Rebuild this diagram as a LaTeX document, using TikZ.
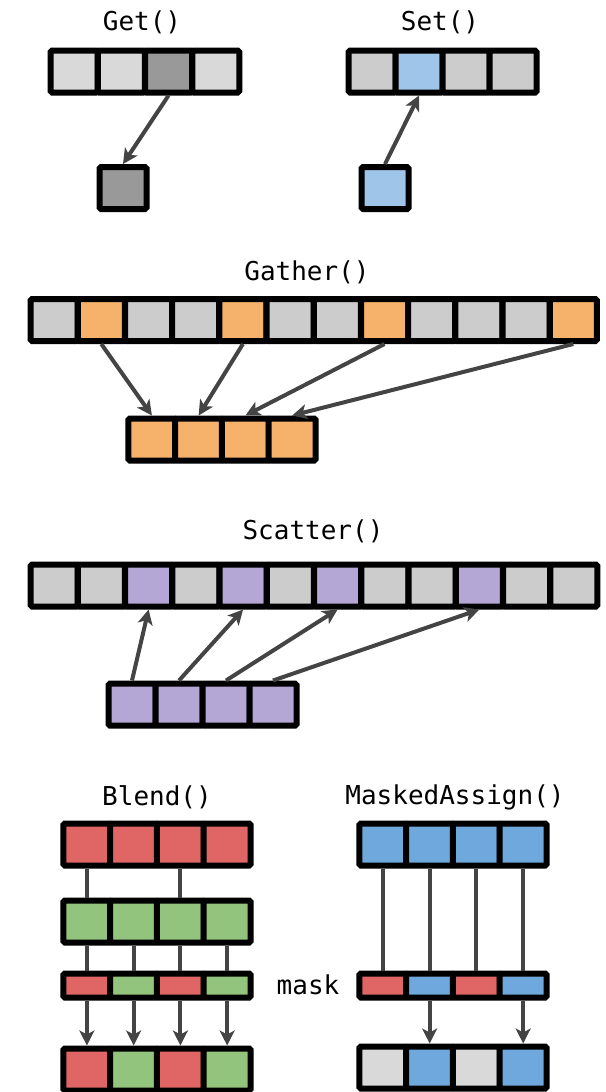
\documentclass[tikz,border=0pt]{standalone}
\usepackage{fontspec}
\setmonofont{DejaVu Sans Mono}
\usepackage{tikz}
\usetikzlibrary{arrows.meta}

\definecolor{lgray}{HTML}{D9D9D9}
\definecolor{mgray}{HTML}{CCCCCC}
\definecolor{dgray}{HTML}{999999}
\definecolor{lblue}{HTML}{9FC5E8}
\definecolor{orng}{HTML}{F6B26B}
\definecolor{purp}{HTML}{B4A7D6}
\definecolor{rd}{HTML}{E06666}
\definecolor{grn}{HTML}{93C47D}
\definecolor{blu}{HTML}{6FA8DC}
\definecolor{arrgray}{HTML}{444444}

\begin{document}
\begin{tikzpicture}[x=1pt,
            y=-1pt,
            >={Stealth[length=15pt,width=15pt,inset=4pt]},
            cell/.style={draw=black, line width=6pt, rounded corners=1.5pt,
                         minimum width=47pt, minimum height=42pt, inner sep=0pt},
            mcell/.style={cell, minimum height=24pt},
            arr/.style={->, draw=arrgray, line width=4pt},
            link/.style={draw=arrgray, line width=4pt},
            title/.style={font=\ttfamily\fontsize{26}{30}\selectfont}]

        \useasboundingbox (0,0) rectangle (605,1092);

        % Get() and Set()
        \node[title] (gett) at (142,22) {Get()};
        \node[title] (sett) at (440,22) {Set()};
        \foreach \c [count=\i from 0] in {lgray,lgray,dgray,lgray}
            \node[cell, fill=\c] (get\i) at (74+\i*47.25, 71.5) {};
        \foreach \c [count=\i from 0] in {mgray,lblue,mgray,mgray}
            \node[cell, fill=\c] (set\i) at (372+\i*47, 71.5) {};
        \node[cell, fill=dgray] (getv) at (123,188) {};
        \node[cell, fill=lblue] (setv) at (385,188) {};
        \draw[arr] (get2.south) -- (getv.north);
        \draw[arr] (setv.north) -- (set1.south);

        % Gather()
        \node[title] (gatht) at (307,272) {Gather()};
        \foreach \c [count=\i from 0] in {mgray,orng,mgray,mgray,orng,mgray,
                                          mgray,orng,mgray,mgray,mgray,orng}
            \node[cell, fill=\c] (ga\i) at (54.1+\i*47.2, 320) {};
        \foreach \i in {0,...,3}
            \node[cell, fill=orng] (gs\i) at (151.9+\i*46.75, 439.5) {};
        \foreach \a/\b in {1/0,4/1,7/2,11/3}
            \draw[arr] (ga\a.south) -- (gs\b.north);

        % Scatter()
        \node[title] (scatt) at (313,531) {Scatter()};
        \foreach \c [count=\i from 0] in {mgray,mgray,purp,mgray,purp,mgray,
                                          purp,mgray,mgray,purp,mgray,mgray}
            \node[cell, fill=\c] (sa\i) at (54.1+\i*47.25, 585.5) {};
        \foreach \i in {0,...,3}
            \node[cell, fill=purp] (ss\i) at (132+\i*47, 704.5) {};
        \foreach \a/\b in {0/2,1/4,2/6,3/9}
            \draw[arr] (ss\a.north) -- (sa\b.south);

        % Blend()
        \node[title] (blendt) at (157,797) {Blend()};
        \foreach \i in {0,...,3} {
            \node[cell, fill=rd]  (ba\i) at (86.9+\i*46.75, 844.5) {};
            \node[cell, fill=grn] (bb\i) at (86.9+\i*46.75, 921.5) {};
        }
        \foreach \c [count=\i from 0] in {rd,grn,rd,grn} {
            \node[mcell, fill=\c] (bm\i) at (86.9+\i*46.75, 985.5) {};
            \node[cell, fill=\c]  (br\i) at (86.9+\i*46.75, 1069.5) {};
        }
        \foreach \i in {0,2}
            \draw[link] (ba\i.south) -- (bb\i.north);
        \foreach \i in {0,...,3} {
            \draw[link] (bb\i.south) -- (bm\i.north);
            \draw[arr] (bm\i.south) -- (br\i.north);
        }

        % MaskedAssign()
        \node[title] (maskt) at (455,797) {MaskedAssign()};
        \node[title] (maskl) at (308,985) {mask};
        \foreach \i in {0,...,3}
            \node[cell, fill=blu] (ma\i) at (382.9+\i*46.75, 844.5) {};
        \foreach \c/\d [count=\i from 0] in {rd/lgray,blu/blu,rd/lgray,blu/blu} {
            \node[mcell, fill=\c] (mm\i) at (382.9+\i*46.75, 985.5) {};
            \node[cell, fill=\d]  (mr\i) at (382.9+\i*46.75, 1067.5) {};
        }
        \foreach \i in {0,...,3}
            \draw[link] (ma\i.south) -- (mm\i.north);
        \foreach \i in {1,3}
            \draw[arr] (mm\i.south) -- (mr\i.north);

    \end{tikzpicture}
\end{document}
